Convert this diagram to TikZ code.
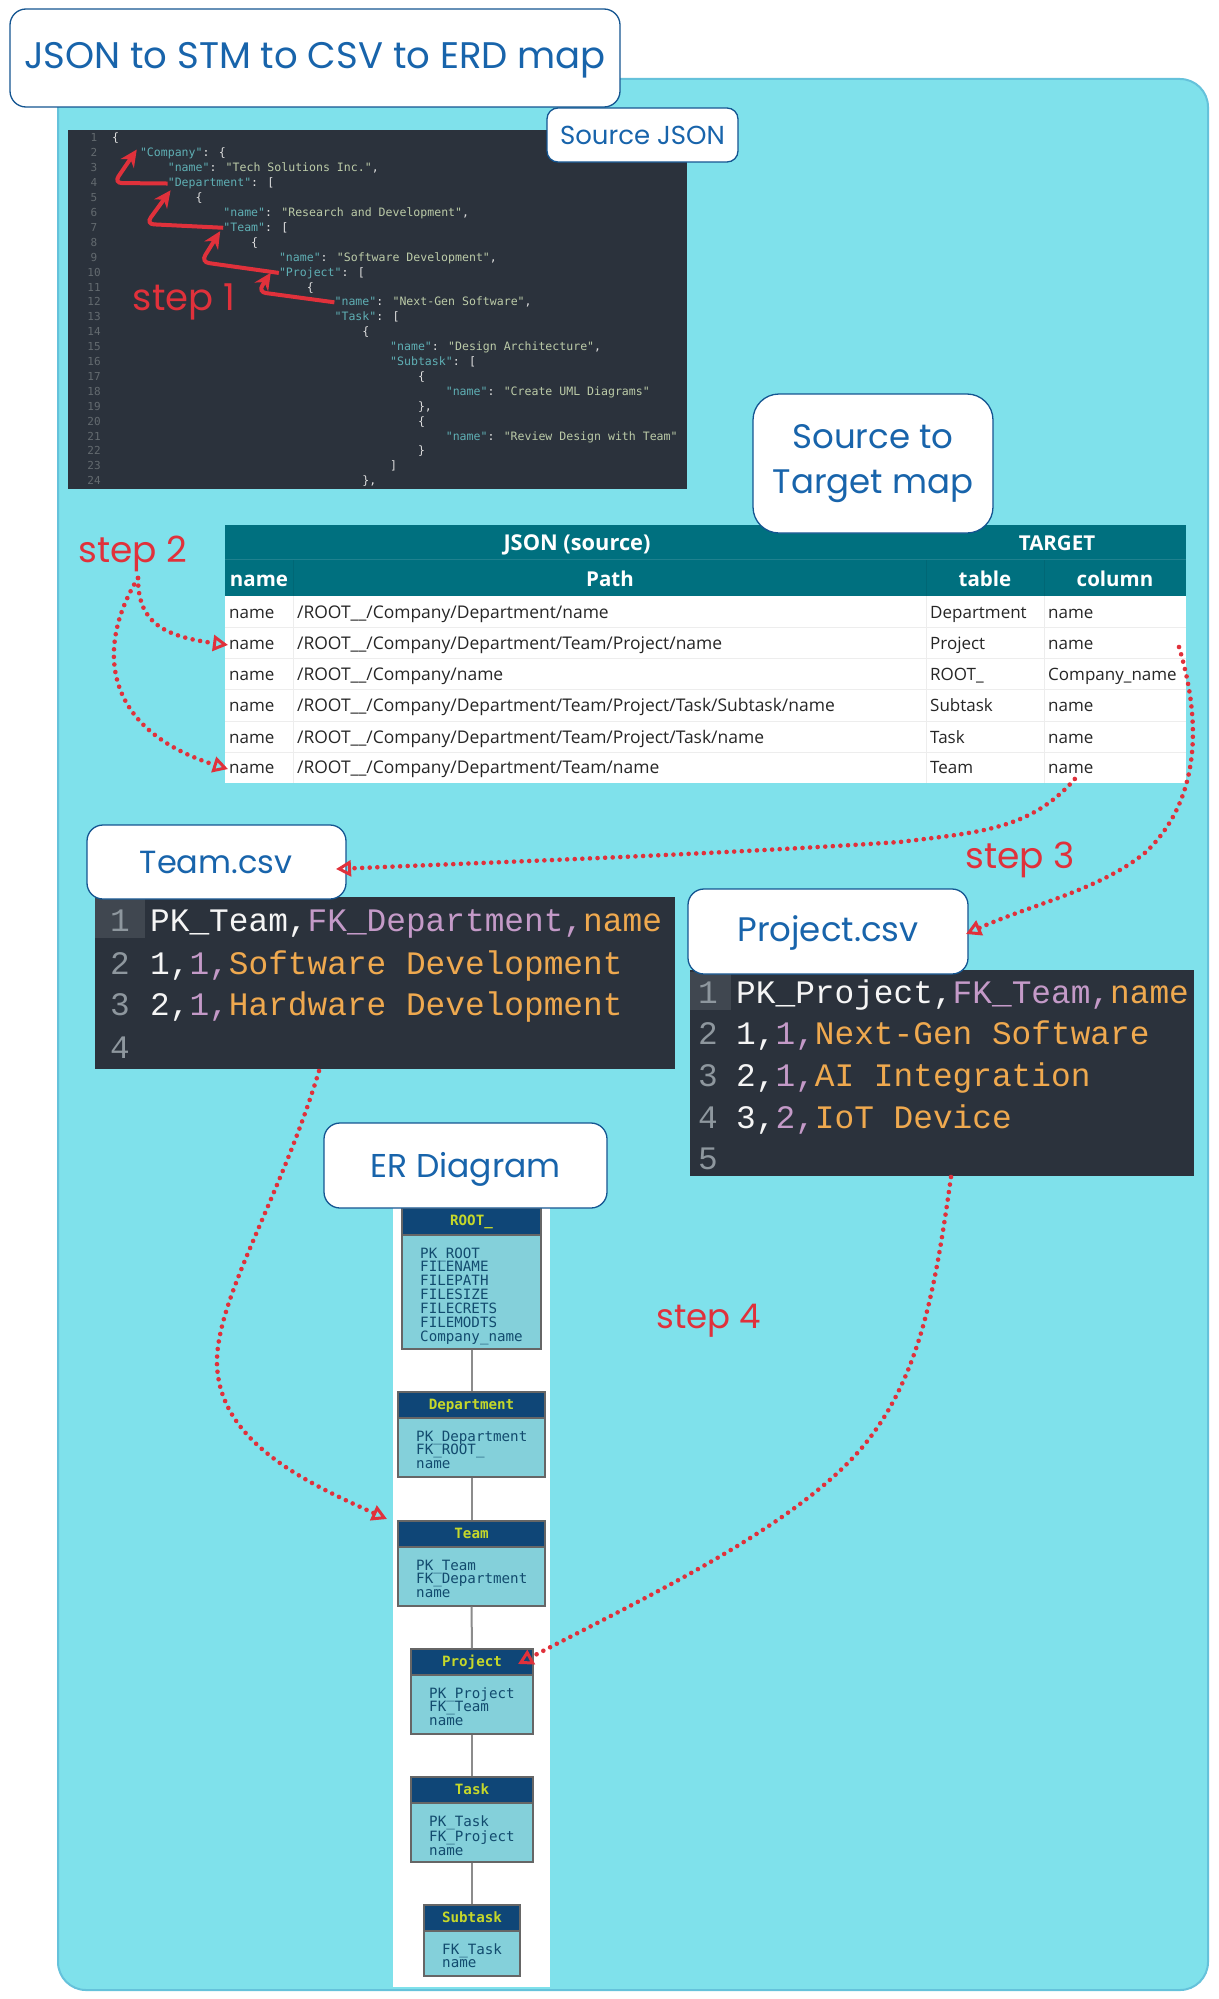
\documentclass[tikz,border=0pt]{standalone}
\usepackage{fontspec}
\usetikzlibrary{arrows.meta}
\setmainfont{Open Sans}
\newfontfamily\handf{Poppins}
\newfontfamily\monof{DejaVu Sans Mono}
\newfontfamily\csvf{Liberation Mono}
\definecolor{bgc}{HTML}{7FE1EB}
\definecolor{panelc}{HTML}{2B323C}
\definecolor{tealh}{HTML}{00707F}
\definecolor{inkb}{HTML}{1864AB}
\definecolor{redc}{HTML}{E0313B}
\definecolor{keyc}{HTML}{5FAFB4}
\definecolor{valc}{HTML}{BCCBA8}
\definecolor{purc}{HTML}{C49AC8}
\definecolor{orc}{HTML}{EFA94F}
\definecolor{numc}{HTML}{8E979E}
\definecolor{erh}{HTML}{0F4677}
\definecolor{erb}{HTML}{84D0DA}
\definecolor{ert}{HTML}{124B6E}
\definecolor{ery}{HTML}{C6D82A}
\newcommand{\K}[1]{\textcolor{keyc}{#1}}
\newcommand{\V}[1]{\textcolor{valc}{#1}}
\newcommand{\Pu}[1]{\textcolor{purc}{#1}}
\newcommand{\Or}[1]{\textcolor{orc}{#1}}
\newcommand{\entity}[9]{%
  % #1 name, #2 title, #3 x1, #4 x2, #5 y1, #6 y2, #7 y3, #8 text x, #9 lines
  \pgfmathsetmacro{\ew}{#4-#3}\pgfmathsetmacro{\ehh}{#6-#5}\pgfmathsetmacro{\ebh}{#7-#6}%
  \node[erbody,minimum width=\ew pt,minimum height=\ebh pt] (#1B) at ({(#3+#4)/2},{(#6+#7)/2}) {};
  \node[erhead,minimum width=\ew pt,minimum height=\ehh pt] (#1H) at ({(#3+#4)/2},{(#5+#6)/2}) {#2};
  \node[ertext,anchor=base west,text width=\ew pt] (#1T) at (#8,#6+23) {#9};
}
\tikzset{
  hbox/.style={draw=inkb!85!black,line width=1.3pt,fill=white,rounded corners=16pt,text=inkb,inner sep=0pt,align=center,font=\handf},
  htext/.style={inner sep=0pt,text=inkb,align=center},
  lbl/.style={text=redc,inner sep=0pt,font=\handf},
  panel/.style={fill=panelc,inner sep=0pt},
  jline/.style={anchor=base west,inner sep=0pt,font=\monof\fontsize{11.55}{12}\selectfont,text=white!75!gray},
  jnum/.style={anchor=base,inner sep=0pt,font=\monof\fontsize{11}{12}\selectfont,text=numc!70!black},
  csv/.style={anchor=base west,inner sep=0pt,font=\csvf\fontsize{32.8}{34}\selectfont,text=white!92!gray},
  csvn/.style={anchor=base,inner sep=0pt,font=\csvf\fontsize{32.8}{34}\selectfont,text=numc},
  gutter/.style={fill=white!10!panelc,inner sep=0pt},
  thd/.style={fill=tealh,inner sep=0pt},
  thx/.style={anchor=base,text=white,inner sep=0pt,font=\fontsize{20.5}{22}\selectfont\bfseries},
  cell/.style={anchor=base west,inner sep=0pt,text=black!85,font=\fontsize{17}{18}\selectfont},
  pcell/.style={anchor=base west,inner sep=0pt,text=black!85,font=\fontsize{17.45}{18}\selectfont},
  erhead/.style={draw=black!60,line width=1.2pt,fill=erh,inner sep=0pt,text=ery,text height=10pt,text depth=2pt,font=\monof\bfseries\fontsize{14.2}{14}\selectfont},
  erbody/.style={draw=black!60,line width=1.4pt,fill=erb,inner sep=0pt},
  ertext/.style={inner sep=0pt,align=left,text=ert,font=\monof\fontsize{14.2}{13.9}\selectfont},
  erlink/.style={draw=black!45,line width=2pt},
  sketch/.style={draw=redc,line width=4pt,rounded corners=8pt,-{Stealth[length=17pt,width=16pt]}},
  dotarrow/.style={draw=redc,line width=4.6pt,line cap=round,dash pattern=on 0pt off 7.6pt,
    -{Triangle[open,length=15pt,width=16pt,line width=3pt]}},
}
\begin{document}
\begin{tikzpicture}[x=1pt,y=-1pt]
\useasboundingbox (0,0) rectangle (1218,1999);
\fill[white] (0,0) rectangle (1218,1999);
\draw[draw=inkb!25!bgc,line width=2pt,fill=bgc,rounded corners=28pt] (58,79) rectangle (1208,1990);

% source JSON panel
\node[panel,minimum width=619pt,minimum height=359pt] (jsonpanel) at (377.5,309.5) {};
\foreach \jn/\ji/\jt in {
  1/0/{\{},
  2/4/{\K{"Company"}: \{},
  3/8/{\K{"name"}: \V{"Tech Solutions Inc."},},
  4/8/{\K{"Department"}: [},
  5/12/{\{},
  6/16/{\K{"name"}: \V{"Research and Development"},},
  7/16/{\K{"Team"}: [},
  8/20/{\{},
  9/24/{\K{"name"}: \V{"Software Development"},},
  10/24/{\K{"Project"}: [},
  11/28/{\{},
  12/32/{\K{"name"}: \V{"Next-Gen Software"},},
  13/32/{\K{"Task"}: [},
  14/36/{\{},
  15/40/{\K{"name"}: \V{"Design Architecture"},},
  16/40/{\K{"Subtask"}: [},
  17/44/{\{},
  18/48/{\K{"name"}: \V{"Create UML Diagrams"}},
  19/44/{\},},
  20/44/{\{},
  21/48/{\K{"name"}: \V{"Review Design with Team"}},
  22/44/{\}},
  23/40/{]},
  24/36/{\},}}{
  \node[jnum] (n\jn) at (94,{142+14.9*(\jn-1)}) {\jn};
  \node[jline] (j\jn) at ({112+6.95*\ji},{142+14.9*(\jn-1)}) {\jt};
}
\draw[sketch] (j4.west) -- (114,183) -- ([xshift=-3pt,yshift=10pt]j2.south west);
\draw[sketch] (j7.west) -- (146,224) -- ([xshift=3pt,yshift=-1pt]j4.south west);
\draw[sketch] (j10.west) -- (201,262) -- ([xshift=-3pt,yshift=2pt]j7.south west);
\draw[sketch] (j12.west) -- (258,292) -- ([xshift=-8pt,yshift=6pt]j10.south west);
\node[lbl,font=\handf\fontsize{37}{39}\selectfont] (s1) at (184,302) {step 1};
\node[hbox,minimum width=191pt,minimum height=54pt,rounded corners=11pt,font=\handf\fontsize{26}{28}\selectfont] (srcjson) at (642.5,135) {Source JSON};

% mapping table
\node[fill=white,inner sep=0pt,minimum width=961pt,minimum height=187pt] (tbody) at (705.5,689.5) {};
\node[thd,minimum width=961pt,minimum height=71pt] (thead) at (705.5,560.5) {};
\foreach \cy in {627.5,658.7,689.9,721.1,752.3}{\draw[black!7,line width=1pt] (225,\cy) -- (1186,\cy);}
\foreach \cx in {293,926,1044}{\draw[black!7,line width=1pt] (\cx,596) -- (\cx,783);\draw[black!8!tealh,line width=1pt] (\cx,559) -- (\cx,596);}
\draw[white!12!tealh,line width=1pt] (225,559) -- (1186,559);
\node[thx,font=\fontsize{21.8}{23}\selectfont\bfseries] (hjson) at (577,550) {JSON (source)};
\node[thx] (htarget) at (1057,550) {TARGET};
\node[thx] (hname) at (259,586) {name};
\node[thx] (hpath) at (610,586) {Path};
\node[thx] (htable) at (985,586) {table};
\node[thx] (hcol) at (1115,586) {column};
\foreach \rn/\ry/\pth/\tb/\cl in {
  1/618.3/{/ROOT\_\_/Company/Department/name}/Department/name,
  2/649.5/{/ROOT\_\_/Company/Department/Team/Project/name}/Project/name,
  3/680.7/{/ROOT\_\_/Company/name}/{ROOT\_}/{Company\_name},
  4/711.9/{/ROOT\_\_/Company/Department/Team/Project/Task/Subtask/name}/Subtask/name,
  5/743.1/{/ROOT\_\_/Company/Department/Team/Project/Task/name}/Task/name,
  6/773.6/{/ROOT\_\_/Company/Department/Team/name}/Team/name}{
  \node[cell] (r\rn n) at (229,\ry) {name};
  \node[pcell] (r\rn p) at (297,\ry) {\pth};
  \node[cell] (r\rn t) at (930,\ry) {\tb};
  \node[cell] (r\rn c) at (1048,\ry) {\cl};
}
\node[hbox,minimum width=240pt,minimum height=139pt,rounded corners=26pt] (stm) at (873,463.5) {};
\node[htext,font=\handf\fontsize{34}{45}\selectfont] (stmlbl) at (873,464) {Source to\\Target map};

% Team.csv
\node[panel,minimum width=580pt,minimum height=172pt] (teamcode) at (385,983) {};
\node[gutter,minimum width=50pt,minimum height=40pt] (teamg) at (120,918) {};
\foreach \ln/\ly/\lt in {
  1/931/{PK\_Team,\Pu{FK\_Department,}\Or{name}},
  2/974/{1,\Pu{1,}\Or{Software Development}},
  3/1015/{2,\Pu{1,}\Or{Hardware Development}},
  4/1058/{}}{
  \node[csvn] (tn\ln) at (120,\ly) {\ln};
  \node[csv] (tl\ln) at (150,\ly) {\lt};
}
\node[hbox,minimum width=259pt,minimum height=74pt] (teamcsv) at (216.5,862) {};
\node[htext,font=\handf\fontsize{32}{34}\selectfont] (teamlbl) at (216,862) {Team.csv};

% Project.csv
\node[panel,minimum width=504pt,minimum height=206pt] (projcode) at (942,1073) {};
\node[gutter,minimum width=41pt,minimum height=38pt] (projg) at (710.5,991) {};
\foreach \ln/\ly/\lt in {
  1/1003/{PK\_Project,\Pu{FK\_Team,}\Or{name}},
  2/1044/{1,\Pu{1,}\Or{Next-Gen Software}},
  3/1086/{2,\Pu{1,}\Or{AI Integration}},
  4/1128/{3,\Pu{2,}\Or{IoT Device}},
  5/1169/{}}{
  \node[csvn] (pn\ln) at (708,\ly) {\ln};
  \node[csv] (pl\ln) at (736,\ly) {\lt};
}
\node[hbox,minimum width=280pt,minimum height=85pt] (projcsv) at (828,931.5) {};
\node[htext,font=\handf\fontsize{34}{36}\selectfont] (projlbl) at (828,933) {Project.csv};

% ER diagram
\node[fill=white,inner sep=0pt,minimum width=157pt,minimum height=780pt] (erstrip) at (471.5,1597) {};
\entity{root}{ROOT\_}{402}{541}{1208}{1235}{1349}{420}{PK\_ROOT\\FILENAME\\FILEPATH\\FILESIZE\\FILECRETS\\FILEMODTS\\Company\_name}
\entity{dept}{Department}{398}{545}{1392}{1418}{1477}{416}{PK\_Department\\FK\_ROOT\_\\name}
\entity{team}{Team}{398}{545}{1521}{1547}{1606}{416}{PK\_Team\\FK\_Department\\name}
\entity{proj}{Project}{411}{533}{1649}{1675}{1734}{429}{PK\_Project\\FK\_Team\\name}
\entity{task}{Task}{411}{533}{1777}{1803}{1862}{429}{PK\_Task\\FK\_Project\\name}
\entity{sub}{Subtask}{424}{520}{1905}{1931}{1976}{442}{FK\_Task\\name}
\draw[erlink] (rootB.south) -- (deptH.north);
\draw[erlink] (deptB.south) -- (teamH.north);
\draw[erlink] (teamB.south) -- (projH.north);
\draw[erlink] (projB.south) -- (taskH.north);
\draw[erlink] (taskB.south) -- (subH.north);
\node[hbox,minimum width=283pt,minimum height=85pt] (erd) at (465.5,1165.5) {};
\node[htext,font=\handf\fontsize{33}{35}\selectfont] (erlbl) at (465.5,1169) {ER Diagram};

% title
\node[hbox,minimum width=610pt,minimum height=98pt] (title) at (315,58) {};
\node[htext,font=\handf\fontsize{37}{39}\selectfont] (titlelbl) at (315,60) {JSON to STM to CSV to ERD map};

% step labels
\node[lbl,font=\handf\fontsize{36}{38}\selectfont] (s2) at (133,554) {step 2};
\node[lbl,font=\handf\fontsize{36}{38}\selectfont] (s3) at (1020,860) {step 3};
\node[lbl,font=\handf\fontsize{34}{36}\selectfont] (s4) at (709,1321) {step 4};

% free ends
\coordinate (s2o) at (138,578);
\coordinate (cola) at (1179,647);
\coordinate (tipteam) at (336,869);
\coordinate (tipproj) at (966,934);
\coordinate (teamo) at (319,1071);
\coordinate (projo) at (951,1177);
\coordinate (tiper) at (387,1519);
\coordinate (tipprojer) at (518,1664);

% dotted connectors
\draw[dotarrow] (s2o) .. controls (138,620) and (160,636) .. ([xshift=-1pt]r2n.west);
\draw[dotarrow] (s2o) .. controls (94,650) and (105,730) .. ([xshift=-1pt]r6n.west);
\draw[dotarrow] ([xshift=4pt,yshift=-5pt]r6c.south) .. controls (1030,830) and (980,832) .. (900,842) .. controls (700,855) and (500,862) .. (tipteam);
\draw[dotarrow] (cola) .. controls (1195,700) and (1210,790) .. (1146,852) .. controls (1100,890) and (1030,905) .. (tipproj);
\draw[dotarrow] (teamo) .. controls (280,1200) and (215,1300) .. (217,1365) .. controls (220,1440) and (300,1480) .. (tiper);
\draw[dotarrow] (projo) .. controls (935,1290) and (920,1380) .. (860,1450) .. controls (790,1530) and (640,1600) .. (tipprojer);
\end{tikzpicture}
\end{document}
